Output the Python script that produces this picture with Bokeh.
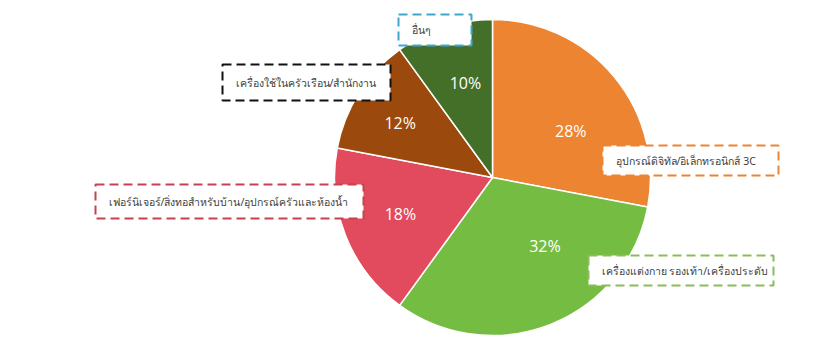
import math
from bokeh.plotting import figure
from bokeh.models import Range1d, ColumnDataSource
from bokeh.core.properties import value
from bokeh.embed import file_html
from bokeh.resources import INLINE

# ---- data ----
categories = [
    "อุปกรณ์ดิจิทัล/อิเล็กทรอนิกส์ 3C",
    "เครื่องแต่งกาย รองเท้า/เครื่องประดับ",
    "เฟอร์นิเจอร์/สิ่งทอสำหรับบ้าน/อุปกรณ์ครัวและห้องน้ำ",
    "เครื่องใช้ในครัวเรือน/สำนักงาน",
    "อื่นๆ",
]
shares = [28, 32, 18, 12, 10]

# ---- styles / layout ----
slice_colors = ["#EC8432", "#75BD42", "#E24A5D", "#9B490C", "#446F28"]
box_colors = ["#EC8432", "#8CBB5A", "#C9404F", "#111111", "#3FA7CF"]
W, H = 838, 356
CX, CY, R = 492, 177, 158
# label boxes (left, top, right, bottom) in screen pixels
box_layout = [
    (602, 145, 778, 175),
    (588, 255, 773, 285),
    (95, 184, 363, 218),
    (222, 64, 390, 100),
    (398, 14, 471, 45),
]
pct_angle_shift = [9, -16, 0, -2, 2]     # degrees, clockwise
pct_radius = [91, 86, 99, 107, 98]

def sy(y):
    return H - y

p = figure(width=W, height=H, x_range=Range1d(0, W), y_range=Range1d(0, H),
           output_backend="svg", toolbar_location=None, min_border=0)
p.axis.visible = False
p.grid.visible = False
p.outline_line_color = None
p.background_fill_color = "white"
p.border_fill_color = "white"

total = sum(shares)
starts, ends, mids = [], [], []
cum = 0
for v in shares:
    a0 = cum / total
    cum += v
    a1 = cum / total
    starts.append(math.pi / 2 - 2 * math.pi * a0)
    ends.append(math.pi / 2 - 2 * math.pi * a1)
    mids.append((a0 + a1) / 2 * 360)

src = ColumnDataSource(dict(start=starts, end=ends, color=slice_colors))
p.wedge(x=CX, y=sy(CY), radius=R, start_angle="start", end_angle="end",
        direction="clock", fill_color="color", line_color="white",
        line_width=1.5, source=src)

# percentage labels
px, py, pt = [], [], []
for i, v in enumerate(shares):
    ang = math.radians(mids[i] + pct_angle_shift[i])
    px.append(CX + pct_radius[i] * math.sin(ang))
    py.append(sy(CY - pct_radius[i] * math.cos(ang)))
    pt.append(f"{v}%")
p.text(x=px, y=py, text=pt, text_color="white", text_font=value("Open Sans"),
       text_font_size="16px", text_align="center", text_baseline="middle")

# category boxes
for i, name in enumerate(categories):
    l, t, r, b = box_layout[i]
    p.quad(left=l, right=r, top=sy(t), bottom=sy(b), fill_color="white",
           line_color=box_colors[i], line_width=2, line_dash="9 5")
    p.text(x=[l + 13], y=[sy((t + b) / 2)], text=[name], text_color="#404040",
           text_font=value("Noto Sans"), text_font_size="10.5px",
           text_align="left", text_baseline="middle")

open("out.html", "w").write(file_html(p, INLINE))
